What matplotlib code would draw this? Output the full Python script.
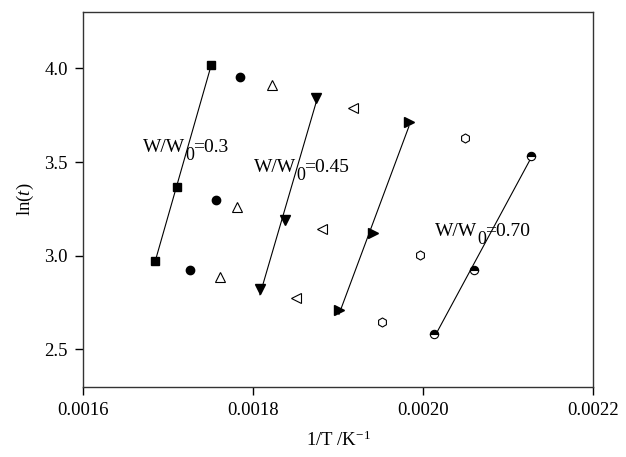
import matplotlib
matplotlib.use("Agg")
import matplotlib.pyplot as plt
import numpy as np

plt.rcParams['font.family'] = ['Liberation Serif', 'DejaVu Serif']
plt.rcParams['mathtext.fontset'] = 'custom'
plt.rcParams['mathtext.rm'] = 'Liberation Serif'
plt.rcParams['mathtext.it'] = 'Liberation Serif:italic'

# 1/T values and ln(t) for each series
sq_x = [0.0017506, 0.0017106, 0.0016847]
sq_y = [4.016, 3.367, 2.973]
ci_x = [0.0017847, 0.0017565, 0.0017259]
ci_y = [3.952, 3.298, 2.926]
tu_x = [0.0018224, 0.0017812, 0.0017612]
tu_y = [3.910, 3.260, 2.888]
td_x = [0.0018741, 0.0018376, 0.0018082]
td_y = [3.840, 3.190, 2.824]
tl_x = [0.0019176, 0.0018812, 0.0018506]
tl_y = [3.790, 3.144, 2.777]
tr_x = [0.0019835, 0.0019410, 0.0019012]
tr_y = [3.713, 3.122, 2.713]
hx_x = [0.0020494, 0.0019965, 0.0019518]
hx_y = [3.628, 3.005, 2.649]
hc_x = [0.0021270, 0.0020600, 0.0020130]
hc_y = [3.532, 2.926, 2.580]

ratios = ["0.3", "0.45", "0.70"]
label_pos = [(0.0016706, 3.553), (0.0018012, 3.449), (0.0020141, 3.106)]

fig = plt.figure(figsize=(6.26, 4.57), dpi=100)
ax = fig.add_axes([0.1326, 0.1532, 0.8144, 0.8205])

ms = 6
ax.plot(sq_x, sq_y, 's', color='black', ms=ms)
ax.plot(ci_x, ci_y, 'o', color='black', ms=ms)
ax.plot(tu_x, tu_y, '^', mfc='white', mec='black', ms=ms + 0.5, mew=0.8)
ax.plot(td_x, td_y, 'v', color='black', ms=ms + 1)
ax.plot(tl_x, tl_y, '<', mfc='white', mec='black', ms=ms + 0.5, mew=0.8)
ax.plot(tr_x, tr_y, '>', color='black', ms=ms + 1)
ax.plot(hx_x, hx_y, 'h', mfc='white', mec='black', ms=ms + 0.5, mew=0.8)
ax.plot(hc_x, hc_y, 'o', fillstyle='top', mfc='black', mfcalt='white',
        mec='black', ms=ms, mew=0.8)

# linear fits through the four fitted series
for xs, ys in [(sq_x, sq_y), (td_x, td_y), (tr_x, tr_y), (hc_x, hc_y)]:
    k, b = np.polyfit(xs, ys, 1)
    xx = np.array([min(xs), max(xs)])
    ax.plot(xx, k * xx + b, color='black', lw=0.8, zorder=1)

ax.set_xlim(0.0016, 0.0022)
ax.set_ylim(2.3, 4.3)
ax.set_xticks([0.0016, 0.0018, 0.0020, 0.0022])
ax.set_xticklabels(["0.0016", "0.0018", "0.0020", "0.0022"])
ax.set_yticks([2.5, 3.0, 3.5, 4.0])
ax.set_yticklabels(["2.5", "3.0", "3.5", "4.0"])
ax.tick_params(direction='out', length=6, width=1, labelsize=13.5, pad=5,
               top=False, right=False)
for s in ax.spines.values():
    s.set_color('#333333')
    s.set_linewidth(1)

ax.set_xlabel("1/T /K$^{-1}$", fontsize=13.5, labelpad=8)
ax.set_ylabel("ln($\\mathit{t}$)", fontsize=13.5, labelpad=6)

# labels with full-size lowered subscript, built piece by piece
renderer = fig.canvas.get_renderer()
fs = 14
for r, (tx, ty) in zip(ratios, label_pos):
    t1 = ax.text(tx, ty, "W/W", fontsize=fs, va='baseline', ha='left')
    w1 = t1.get_window_extent(renderer).width * 72 / fig.dpi
    t2 = ax.annotate("0", (tx, ty), xytext=(w1, -6), textcoords='offset points',
                     fontsize=fs - 1, va='baseline', ha='left')
    w2 = t2.get_window_extent(renderer).width * 72 / fig.dpi
    ax.annotate("=" + r, (tx, ty), xytext=(w1 + w2 - 0.5, 0),
                textcoords='offset points', fontsize=fs, va='baseline', ha='left')

fig.savefig("out.png", dpi=100)
